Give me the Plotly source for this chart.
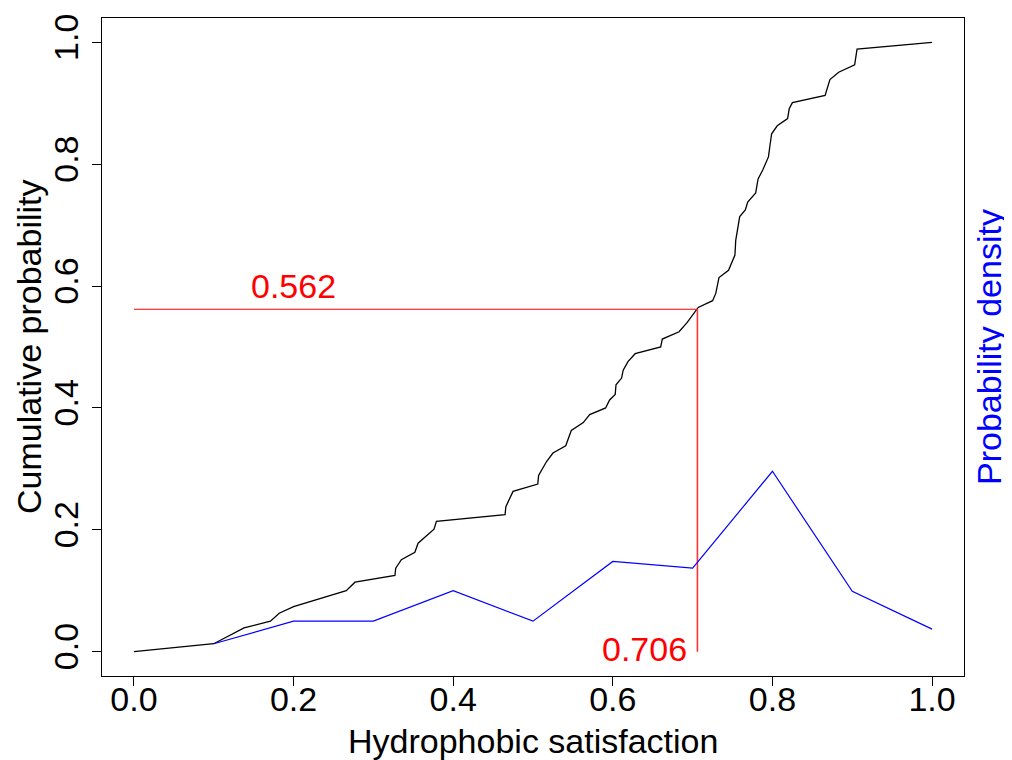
import plotly.graph_objects as go

# Cumulative distribution (black)
cum_x = [0.0, 0.1, 0.138, 0.171, 0.182, 0.2, 0.266, 0.277, 0.327, 0.328, 0.335, 0.352,
         0.356, 0.365, 0.376, 0.379, 0.465, 0.466, 0.475, 0.506, 0.507, 0.517, 0.525,
         0.541, 0.548, 0.563, 0.571, 0.591, 0.596, 0.603, 0.604, 0.611, 0.613, 0.619,
         0.628, 0.660, 0.662, 0.683, 0.693, 0.707, 0.725, 0.729, 0.733, 0.745, 0.753,
         0.754, 0.759, 0.766, 0.769, 0.779, 0.782, 0.788, 0.795, 0.797, 0.799, 0.806,
         0.819, 0.821, 0.825, 0.866, 0.869, 0.872, 0.883, 0.903, 0.906, 1.0]
cum_y = [0.0, 0.013, 0.039, 0.050, 0.063, 0.074, 0.100, 0.114, 0.125, 0.137, 0.151, 0.163,
         0.178, 0.189, 0.201, 0.214, 0.225, 0.238, 0.263, 0.275, 0.289, 0.312, 0.326,
         0.338, 0.363, 0.376, 0.389, 0.400, 0.413, 0.422, 0.438, 0.449, 0.462, 0.476,
         0.489, 0.500, 0.513, 0.525, 0.540, 0.565, 0.576, 0.588, 0.614, 0.626, 0.651,
         0.675, 0.714, 0.725, 0.738, 0.753, 0.776, 0.791, 0.812, 0.832, 0.850, 0.863,
         0.875, 0.891, 0.901, 0.913, 0.928, 0.939, 0.951, 0.963, 0.989, 1.0]

# Probability density (blue)
dens_x = [0.1, 0.2, 0.3, 0.4, 0.5, 0.6, 0.7, 0.8, 0.9, 1.0]
dens_y = [0.013, 0.05, 0.05, 0.1, 0.05, 0.148, 0.137, 0.296, 0.099, 0.037]

# Threshold marker (red)
thr_x = 0.706
thr_y = 0.562

tick_vals = [0.0, 0.2, 0.4, 0.6, 0.8, 1.0]
tick_text = ["0.0", "0.2", "0.4", "0.6", "0.8", "1.0"]

x_title = "Hydrophobic satisfaction"
y_title = "Cumulative probability"
y2_title = "Probability density"

FONT = "Liberation Sans, Arial, Helvetica, sans-serif"
FS = 34

fig = go.Figure()
fig.add_trace(go.Scatter(x=cum_x, y=cum_y, mode="lines",
                         line=dict(color="black", width=1.3), showlegend=False))
fig.add_trace(go.Scatter(x=dens_x, y=dens_y, mode="lines", yaxis="y2",
                         line=dict(color="blue", width=1.2), showlegend=False))
fig.add_trace(go.Scatter(x=[0.0, thr_x], y=[thr_y, thr_y], mode="lines",
                         line=dict(color="#ff0000", width=1.2), showlegend=False))
fig.add_trace(go.Scatter(x=[thr_x, thr_x], y=[thr_y, 0.0], mode="lines",
                         line=dict(color="#ff3333", width=1.6), showlegend=False))

# threshold labels
fig.add_annotation(x=0.2, y=thr_y, text=f"{thr_y:.3f}", showarrow=False,
                   xanchor="center", yanchor="bottom", yshift=2,
                   font=dict(color="red", size=FS, family=FONT))
fig.add_annotation(x=thr_x, y=0.0, text=f"{thr_x:.3f}", showarrow=False,
                   xanchor="right", yanchor="middle", xshift=-8, yshift=3,
                   font=dict(color="red", size=FS, family=FONT))

# axis titles (as positioned text)
fig.add_annotation(x=0.5, y=0, xref="paper", yref="paper", text=x_title,
                   showarrow=False, xanchor="center", yanchor="middle", yshift=-65,
                   font=dict(color="black", size=FS, family=FONT))
fig.add_annotation(x=0, y=0.5, xref="paper", yref="paper", text=y_title,
                   showarrow=False, xanchor="center", yanchor="middle", xshift=-73,
                   textangle=-90, font=dict(color="black", size=FS, family=FONT))
fig.add_annotation(x=1, y=0.5, xref="paper", yref="paper", text=y2_title,
                   showarrow=False, xanchor="center", yanchor="middle", xshift=25,
                   textangle=-90, font=dict(color="blue", size=FS, family=FONT))

axis_common = dict(range=[-0.04, 1.04], tickvals=tick_vals, ticktext=tick_text,
                   ticks="outside", ticklen=9, tickwidth=1, tickcolor="black",
                   showgrid=False, zeroline=False, automargin=False,
                   tickfont=dict(size=FS, family=FONT, color="black"))

# page body has an 8px default margin: compensate so the plot box lands at
# x 102..964, y 18..676 in the 1012x760 window
fig.update_layout(
    width=1004, height=752,
    paper_bgcolor="white", plot_bgcolor="white",
    margin=dict(l=94, r=48, t=10, b=84),
    font=dict(family=FONT, size=FS, color="black"),
    xaxis=dict(**axis_common, showline=True, mirror=True, linecolor="black", linewidth=1,
               ticklabelstandoff=-16),
    yaxis=dict(**axis_common, showline=True, mirror=True, linecolor="black", linewidth=1,
               tickangle=-90),
    yaxis2=dict(range=[-0.04, 1.04], overlaying="y", side="right",
                showticklabels=False, ticks="", showgrid=False, zeroline=False,
                showline=False, automargin=False),
)

fig.write_html("out.html")
